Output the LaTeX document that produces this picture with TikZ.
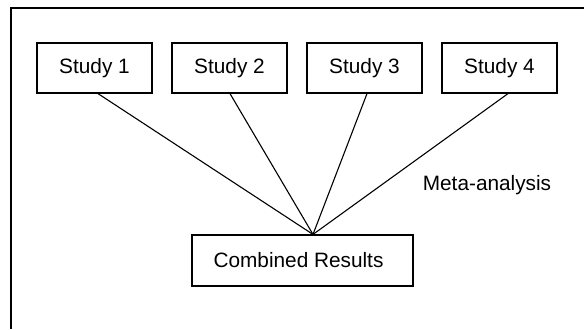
\documentclass[tikz,border=0pt]{standalone}
\usepackage{fontspec}
\setmainfont{Liberation Sans}
\usepackage{xcolor}

\tikzset{
    studybox/.style={rectangle, draw, line width=0.6pt, inner sep=0pt, minimum width=57.5pt, minimum height=25pt},
    resultbox/.style={rectangle, draw, line width=0.6pt, inner sep=0pt, minimum width=110.5pt, minimum height=25.5pt},
    link/.style={line width=0.55pt}
}

\begin{document}
\begin{tikzpicture}[x=0.5pt, y=-0.5pt, font=\fontsize{10.4}{12.5}\selectfont]
    \useasboundingbox (0,0) rectangle (584,329);
    % Frame
    \draw[line width=0.6pt] (584,8) -- (11,8) -- (11,329);

    % Studies and pooled result
    \node[studybox] (s1) at (94.5,68) {Study 1};
    \node[studybox] (s2) at (229.5,68) {Study 2};
    \node[studybox] (s3) at (364.5,68) {Study 3};
    \node[studybox] (s4) at (499.5,68) {Study 4};
    \node[resultbox] (res) at (302.5,260.5) {\hspace{-4pt}Combined Results};
    \coordinate (hub) at ([xshift=5.25pt]res.north);
    \node (meta) at (487,185) {Meta-analysis};

    \draw[link] ([xshift=1.75pt]s1.south) -- (hub);
    \draw[link] ([xshift=0.25pt]s2.south) -- (hub);
    \draw[link] ([xshift=1.25pt]s3.south) -- (hub);
    \draw[link] ([xshift=4.25pt]s4.south) -- (hub);
\end{tikzpicture}
\end{document}
